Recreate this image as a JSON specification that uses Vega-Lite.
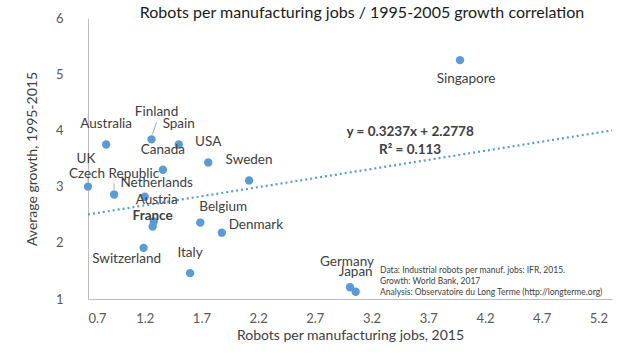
{
  "$schema": "https://vega.github.io/schema/vega-lite/v6.json",
  "width": 524,
  "height": 281,
  "autosize": {"type": "none"},
  "padding": {"left": 88, "top": 18, "right": 15, "bottom": 65},
  "background": "white",
  "config": {
    "view": {"stroke": null},
    "font": "Lato",
    "text": {"font": "Lato"}
  },
  "title": {
    "text": "Robots per manufacturing jobs / 1995-2005 growth correlation",
    "font": "Lato",
    "fontSize": 16,
    "fontWeight": 400,
    "color": "#1a1a1a",
    "anchor": "middle",
    "dx": 12,
    "offset": -9
  },
  "datasets": {
    "points": [
      {"country": "UK", "x": 0.70, "y": 3.00},
      {"country": "Australia", "x": 0.86, "y": 3.75},
      {"country": "Czech Republic", "x": 0.93, "y": 2.86},
      {"country": "Netherlands", "x": 1.20, "y": 2.82},
      {"country": "Finland", "x": 1.26, "y": 3.84},
      {"country": "Spain", "x": 1.50, "y": 3.75},
      {"country": "USA", "x": 1.76, "y": 3.43},
      {"country": "Canada", "x": 1.36, "y": 3.30},
      {"country": "Sweden", "x": 2.12, "y": 3.11},
      {"country": "Austria", "x": 1.28, "y": 2.38},
      {"country": "France", "x": 1.27, "y": 2.29},
      {"country": "Belgium", "x": 1.69, "y": 2.36},
      {"country": "Denmark", "x": 1.88, "y": 2.18},
      {"country": "Switzerland", "x": 1.19, "y": 1.91},
      {"country": "Italy", "x": 1.60, "y": 1.46},
      {"country": "Germany", "x": 3.01, "y": 1.21},
      {"country": "Japan", "x": 3.06, "y": 1.13},
      {"country": "Singapore", "x": 3.98, "y": 5.25}
    ],
    "trend": [
      {"x": 0.7, "y": 2.5044},
      {"x": 5.32, "y": 3.9999}
    ],
    "notes": [
      {"text": "y = 0.3237x + 2.2778", "x": 3.54, "y": 3.98},
      {"text": "R² = 0.113", "x": 3.54, "y": 3.66}
    ],
    "source": [
      {"text": "Data: Industrial robots per manuf. jobs: IFR, 2015.\nGrowth: World Bank, 2017\nAnalysis: Observatoire du Long Terme (http://longterme.org)", "x": 3.275, "y": 1.48}
    ]
  },
  "encoding": {
    "x": {
      "field": "x", "type": "quantitative",
      "scale": {"domain": [0.7, 5.32], "nice": false, "zero": false},
      "axis": {
        "title": "Robots per manufacturing jobs, 2015",
        "values": [0.7, 1.2, 1.7, 2.2, 2.7, 3.2, 3.7, 4.2, 4.7, 5.2],
        "format": ".1f",
        "grid": false, "ticks": false,
        "domainColor": "#BFBFBF", "domainWidth": 1,
        "labelFont": "Lato", "labelFontSize": 13, "labelColor": "#595959",
        "labelPadding": 13,
        "titleFont": "Lato", "titleFontSize": 14, "titleFontWeight": "normal", "titleColor": "#404040",
        "titlePadding": 3
      }
    },
    "y": {
      "field": "y", "type": "quantitative",
      "scale": {"domain": [1, 6], "nice": false, "zero": false},
      "axis": {
        "title": "Average growth, 1995-2015",
        "values": [1, 2, 3, 4, 5, 6],
        "grid": false, "ticks": false,
        "domainColor": "#BFBFBF", "domainWidth": 1,
        "labelFont": "Lato", "labelFontSize": 13, "labelColor": "#595959",
        "labelPadding": 25,
        "titleFont": "Lato", "titleFontSize": 14, "titleFontWeight": "normal", "titleColor": "#404040",
        "titlePadding": 16
      }
    }
  },
  "layer": [
    {
      "data": {"name": "trend"},
      "mark": {"type": "line", "color": "#5B9BD5", "strokeWidth": 2.2, "strokeDash": [2, 3]},
      "encoding": {}
    },
    {
      "data": {"name": "points"},
      "transform": [{"filter": {"field": "country", "oneOf": ["Finland"]}}],
      "mark": {"type": "rule", "color": "#A6A6A6", "strokeWidth": 1, "xOffset": 1, "yOffset": -5, "x2Offset": 5, "y2Offset": -17},
      "encoding": {"x2": {"field": "x"}, "y2": {"field": "y"}}
    },
    {
      "data": {"name": "points"},
      "transform": [{"filter": {"field": "country", "oneOf": ["UK", "Czech Republic"]}}],
      "mark": {"type": "rule", "color": "#A6A6A6", "strokeWidth": 1, "yOffset": -5, "y2Offset": -11},
      "encoding": {"x2": {"field": "x"}, "y2": {"field": "y"}}
    },
    {
      "data": {"name": "points"},
      "mark": {"type": "circle", "size": 70, "color": "#5B9BD5", "opacity": 1},
      "encoding": {}
    },
    {
      "data": {"name": "points"},
      "transform": [{"filter": {"field": "country", "oneOf": ["Australia", "Spain", "Canada", "USA", "Sweden", "Czech Republic", "Italy", "Japan"]}}],
      "mark": {"type": "text", "font": "Lato", "fontSize": 13.5, "color": "#404040", "align": "center", "baseline": "middle", "dy": -20},
      "encoding": {"text": {"field": "country"}}
    },
    {
      "data": {"name": "points"},
      "transform": [{"filter": {"field": "country", "oneOf": ["Austria"]}}],
      "mark": {"type": "text", "font": "Lato", "fontSize": 13.5, "color": "#404040", "align": "center", "baseline": "middle", "dx": 3, "dy": -21},
      "encoding": {"text": {"field": "country"}}
    },
    {
      "data": {"name": "points"},
      "transform": [{"filter": {"field": "country", "oneOf": ["Finland"]}}],
      "mark": {"type": "text", "font": "Lato", "fontSize": 13.5, "color": "#404040", "align": "center", "baseline": "middle", "dx": 5, "dy": -27},
      "encoding": {"text": {"field": "country"}}
    },
    {
      "data": {"name": "points"},
      "transform": [{"filter": {"field": "country", "oneOf": ["UK"]}}],
      "mark": {"type": "text", "font": "Lato", "fontSize": 13.5, "color": "#404040", "align": "center", "baseline": "middle", "dx": -2, "dy": -28},
      "encoding": {"text": {"field": "country"}}
    },
    {
      "data": {"name": "points"},
      "transform": [{"filter": {"field": "country", "oneOf": ["Netherlands"]}}],
      "mark": {"type": "text", "font": "Lato", "fontSize": 13.5, "color": "#404040", "align": "center", "baseline": "middle", "dx": 12, "dy": -14},
      "encoding": {"text": {"field": "country"}}
    },
    {
      "data": {"name": "points"},
      "transform": [{"filter": {"field": "country", "oneOf": ["France"]}}],
      "mark": {"type": "text", "font": "Lato", "fontSize": 13.5, "fontWeight": "bold", "color": "#404040", "align": "center", "baseline": "middle", "dy": -11},
      "encoding": {"text": {"field": "country"}}
    },
    {
      "data": {"name": "points"},
      "transform": [{"filter": {"field": "country", "oneOf": ["Belgium"]}}],
      "mark": {"type": "text", "font": "Lato", "fontSize": 13.5, "color": "#404040", "align": "center", "baseline": "middle", "dx": 23, "dy": -16},
      "encoding": {"text": {"field": "country"}}
    },
    {
      "data": {"name": "points"},
      "transform": [{"filter": {"field": "country", "oneOf": ["Denmark"]}}],
      "mark": {"type": "text", "font": "Lato", "fontSize": 13.5, "color": "#404040", "align": "center", "baseline": "middle", "dx": 34, "dy": -8},
      "encoding": {"text": {"field": "country"}}
    },
    {
      "data": {"name": "points"},
      "transform": [{"filter": {"field": "country", "oneOf": ["Switzerland"]}}],
      "mark": {"type": "text", "font": "Lato", "fontSize": 13.5, "color": "#404040", "align": "center", "baseline": "middle", "dx": -17, "dy": 11},
      "encoding": {"text": {"field": "country"}}
    },
    {
      "data": {"name": "points"},
      "transform": [{"filter": {"field": "country", "oneOf": ["Germany"]}}],
      "mark": {"type": "text", "font": "Lato", "fontSize": 13.5, "color": "#404040", "align": "center", "baseline": "middle", "dx": -3, "dy": -25},
      "encoding": {"text": {"field": "country"}}
    },
    {
      "data": {"name": "points"},
      "transform": [{"filter": {"field": "country", "oneOf": ["Singapore"]}}],
      "mark": {"type": "text", "font": "Lato", "fontSize": 13.5, "color": "#404040", "align": "center", "baseline": "middle", "dx": 6, "dy": 19},
      "encoding": {"text": {"field": "country"}}
    },
    {
      "data": {"name": "notes"},
      "mark": {"type": "text", "font": "Lato", "fontSize": 13.5, "fontWeight": "bold", "color": "#404040", "align": "center", "baseline": "middle"},
      "encoding": {"text": {"field": "text"}}
    },
    {
      "data": {"name": "source"},
      "mark": {"type": "text", "font": "Lato", "fontSize": 8.5, "color": "#404040", "align": "left", "baseline": "top", "lineBreak": "\n", "lineHeight": 11, "dy": -6},
      "encoding": {"text": {"field": "text"}}
    }
  ]
}
